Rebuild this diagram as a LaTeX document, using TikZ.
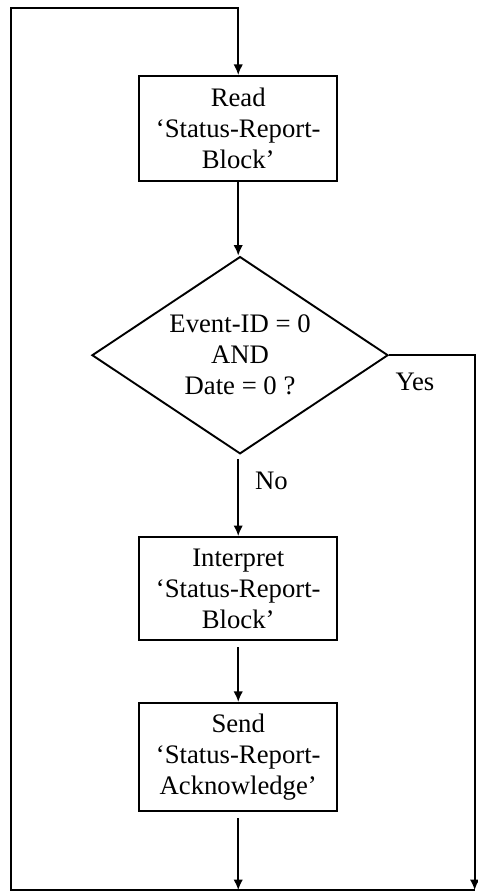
\documentclass[tikz,border=0pt]{standalone}
\usepackage{fontspec}
\setmainfont{Liberation Serif}
\usepackage{tikz}
\usetikzlibrary{shapes.geometric,arrows.meta}

\begin{document}
\begin{tikzpicture}[
  box/.style={draw,line width=0.9pt,align=center,minimum width=3.28cm,inner sep=1pt},
  decision/.style={draw,diamond,line width=0.9pt,align=center,aspect=1.5,inner sep=1pt,minimum width=4.91cm,minimum height=3.27cm},
  flow/.style={line width=0.9pt,-{Latex[length=5pt,width=4.5pt]}},
  font=\fontsize{12.6}{14.6}\selectfont
]

\useasboundingbox (0,0) rectangle (7.91,14.84);

\node[box,minimum height=1.74cm] (read) at (3.95,12.71) {Read\\‘Status-Report-\\Block’};
\node[decision] (check) at (3.98,8.95) {Event-ID = 0\\AND\\Date = 0 ?};
\node[box,minimum height=1.71cm] (interp) at (3.95,5.08) {Interpret\\‘Status-Report-\\Block’};
\node[box,minimum height=1.79cm] (send) at (3.95,2.29) {Send\\‘Status-Report-\\Acknowledge’};

\node (yes) at (6.88,8.50) {Yes};
\node (no) at (4.50,6.86) {No};

\coordinate (merge) at (3.95,0.08);
\coordinate (rb) at (7.87,0.08);
\coordinate (lb) at (0.18,0.08);
\coordinate (lt) at (0.18,14.71);
\coordinate (rt) at (7.87,8.95);

\draw[flow] (read) -- (read |- check.north);
\draw[flow,shorten <=2pt] (check.south -| read) -- (interp);
\draw[flow,shorten <=3pt] (interp) -- (send);
\draw[flow,shorten <=3pt] (send) -- (merge);

\draw[flow] (check.east) -- (rt) -- (rb);
\draw[flow] (rb) -- (lb) -- (lt) -- (read.north |- lt) -- (read);

\end{tikzpicture}
\end{document}
